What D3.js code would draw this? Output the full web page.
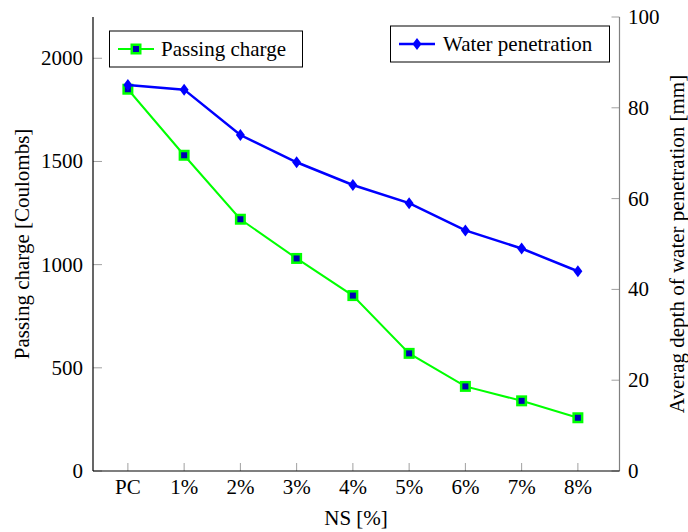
<!DOCTYPE html>
<html>
<head>
<meta charset="utf-8">
<script src="https://cdn.jsdelivr.net/npm/d3@7"></script>
<style>
  body { margin: 0; background: #fff; }
  text { font-family: "Liberation Serif", "DejaVu Serif", "Times New Roman", serif; }
</style>
</head>
<body>
<div id="chart"></div>
<script>
// Data
const categories = ['PC', '1%', '2%', '3%', '4%', '5%', '6%', '7%', '8%'];
const passingCharge = [1850, 1530, 1220, 1030, 850, 570, 410, 340, 258];
const waterDepth = [85, 84, 74, 68, 63, 59, 53, 49, 44];
const leftTicks = [0, 500, 1000, 1500, 2000];
const rightTicks = [0, 20, 40, 60, 80, 100];

const width = 688, height = 532;
const plot = { left: 93, right: 619.5, top: 17, bottom: 471 };
const serif = '"Liberation Serif", "DejaVu Serif", serif';

const svg = d3.select('#chart').append('svg')
    .attr('width', width)
    .attr('height', height)
    .attr('font-family', serif);

// Scales
const x = d3.scaleLinear().domain([-0.62, 8.74]).range([plot.left, plot.right]);
const yLeft = d3.scaleLinear().domain([0, 2200]).range([plot.bottom, plot.top]);
const yRight = d3.scaleLinear().domain([0, 100]).range([plot.bottom, plot.top]);

const tickColor = '#a0a0a0';
const fontSize = '21px';

// Bottom axis ticks (inward) + labels
const xAxis = svg.append('g');
xAxis.selectAll('line.tick')
    .data(categories)
    .enter().append('line')
    .attr('x1', (d, i) => x(i))
    .attr('x2', (d, i) => x(i))
    .attr('y1', plot.bottom)
    .attr('y2', plot.bottom - 8)
    .attr('stroke', tickColor)
    .attr('stroke-width', 1);
xAxis.selectAll('text')
    .data(categories)
    .enter().append('text')
    .attr('x', (d, i) => x(i))
    .attr('y', 494)
    .attr('text-anchor', 'middle')
    .attr('font-family', serif)
    .style('font-size', fontSize)
    .text(d => d);

// Left axis ticks + labels
const lAxis = svg.append('g');
lAxis.selectAll('line')
    .data(leftTicks)
    .enter().append('line')
    .attr('x1', plot.left)
    .attr('x2', plot.left + 9)
    .attr('y1', d => yLeft(d))
    .attr('y2', d => yLeft(d))
    .attr('stroke', tickColor);
lAxis.selectAll('text')
    .data(leftTicks)
    .enter().append('text')
    .attr('x', 83)
    .attr('y', d => yLeft(d))
    .attr('dy', '0.33em')
    .attr('text-anchor', 'end')
    .attr('font-family', serif)
    .style('font-size', fontSize)
    .text(d => d);

// Right axis ticks + labels
const rAxis = svg.append('g');
rAxis.selectAll('line')
    .data(rightTicks)
    .enter().append('line')
    .attr('x1', plot.right - 8)
    .attr('x2', plot.right)
    .attr('y1', d => yRight(d))
    .attr('y2', d => yRight(d))
    .attr('stroke', tickColor);
rAxis.selectAll('text')
    .data(rightTicks)
    .enter().append('text')
    .attr('x', 628)
    .attr('y', d => yRight(d))
    .attr('dy', '0.33em')
    .attr('text-anchor', 'start')
    .attr('font-family', serif)
    .style('font-size', fontSize)
    .text(d => d);

// Axis lines
svg.append('line')
    .attr('x1', plot.right).attr('x2', plot.right)
    .attr('y1', plot.top).attr('y2', plot.bottom)
    .attr('stroke', '#808080').attr('stroke-width', 1.2);
svg.append('line')
    .attr('x1', plot.left).attr('x2', plot.left)
    .attr('y1', plot.top).attr('y2', plot.bottom)
    .attr('stroke', '#000').attr('stroke-width', 1.2);
svg.append('line')
    .attr('x1', plot.left).attr('x2', plot.right)
    .attr('y1', plot.bottom).attr('y2', plot.bottom)
    .attr('stroke', '#000').attr('stroke-width', 1.2);

// Axis titles
svg.append('text')
    .attr('transform', `translate(356,525)`)
    .attr('text-anchor', 'middle')
    .attr('font-family', serif)
    .style('font-size', fontSize)
    .text('NS [%]');
svg.append('text')
    .attr('transform', `translate(29,${(plot.top + plot.bottom) / 2}) rotate(-90)`)
    .attr('text-anchor', 'middle')
    .attr('font-family', serif)
    .style('font-size', fontSize)
    .text('Passing charge [Coulombs]');
svg.append('text')
    .attr('transform', `translate(684,${(plot.top + plot.bottom) / 2}) rotate(-90)`)
    .attr('text-anchor', 'middle')
    .attr('font-family', serif)
    .style('font-size', fontSize)
    .text('Averag depth of water penetration [mm]');

// Series styles
const green = '#00ff00', blue = '#0000ff', markerFill = '#0000b4';
const diamond = 'M0,-6L4.5,0L0,6L-4.5,0Z';

function squareMarker(g, cx, cy) {
    g.append('rect')
        .attr('x', cx - 4.25).attr('y', cy - 4.25)
        .attr('width', 8.5).attr('height', 8.5)
        .attr('fill', markerFill)
        .attr('stroke', green)
        .attr('stroke-width', 2.5);
}

// Passing charge (left axis)
const chargeLine = d3.line()
    .x((d, i) => x(i))
    .y(d => yLeft(d));
svg.append('path')
    .datum(passingCharge)
    .attr('d', chargeLine)
    .attr('fill', 'none')
    .attr('stroke', green)
    .attr('stroke-width', 2);
const chargeMarks = svg.append('g');
passingCharge.forEach((d, i) => squareMarker(chargeMarks, x(i), yLeft(d)));

// Water penetration (right axis)
const waterLine = d3.line()
    .x((d, i) => x(i))
    .y(d => yRight(d));
svg.append('path')
    .datum(waterDepth)
    .attr('d', waterLine)
    .attr('fill', 'none')
    .attr('stroke', blue)
    .attr('stroke-width', 2.5);
svg.append('g')
    .selectAll('path')
    .data(waterDepth)
    .enter().append('path')
    .attr('d', diamond)
    .attr('transform', (d, i) => `translate(${x(i)},${yRight(d)})`)
    .attr('fill', blue);

// Legends
const leg1 = svg.append('g');
leg1.append('rect')
    .attr('x', 109.5).attr('y', 31)
    .attr('width', 193).attr('height', 36)
    .attr('fill', '#fff').attr('stroke', '#000').attr('stroke-width', 1);
leg1.append('line')
    .attr('x1', 118).attr('x2', 154).attr('y1', 49).attr('y2', 49)
    .attr('stroke', green).attr('stroke-width', 2);
squareMarker(leg1, 136, 49);
leg1.append('text')
    .attr('x', 161).attr('y', 49).attr('dy', '0.33em')
    .attr('font-family', serif)
    .style('font-size', fontSize)
    .text('Passing charge');

const leg2 = svg.append('g');
leg2.append('rect')
    .attr('x', 390.5).attr('y', 26)
    .attr('width', 219).attr('height', 36)
    .attr('fill', '#fff').attr('stroke', '#000').attr('stroke-width', 1);
leg2.append('line')
    .attr('x1', 399).attr('x2', 435).attr('y1', 44).attr('y2', 44)
    .attr('stroke', blue).attr('stroke-width', 2.5);
leg2.append('path')
    .attr('d', diamond)
    .attr('transform', 'translate(417,44)')
    .attr('fill', blue);
leg2.append('text')
    .attr('x', 443).attr('y', 44).attr('dy', '0.33em')
    .attr('font-family', serif)
    .style('font-size', fontSize)
    .text('Water penetration');
</script>
</body>
</html>
